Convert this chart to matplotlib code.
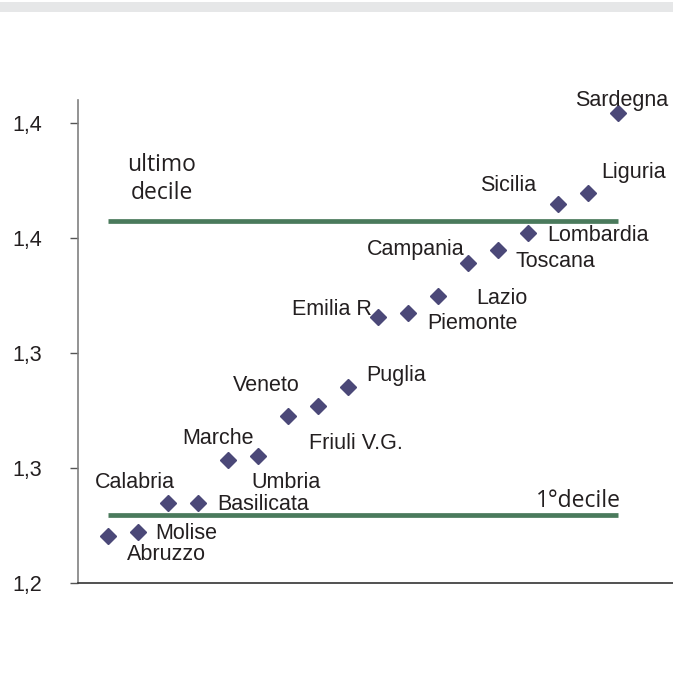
import matplotlib
matplotlib.use("Agg")
import matplotlib.pyplot as plt
from matplotlib.patches import Rectangle
from matplotlib.ticker import FixedLocator, FixedFormatter

# ---- data ----
regions = ["Abruzzo", "Molise", "Calabria", "Basilicata", "Marche", "Umbria",
           "Veneto", "Friuli V.G.", "Puglia", "Emilia R", "Piemonte", "Lazio",
           "Campania", "Toscana", "Lombardia", "Sicilia", "Liguria", "Sardegna"]
values = [1.2204, 1.2222, 1.2348, 1.2348, 1.2535, 1.2552,
          1.2726, 1.2770, 1.2852, 1.3157, 1.3174, 1.3248,
          1.3391, 1.3448, 1.3522, 1.3648, 1.3696, 1.4044]
first_decile = 1.2296
last_decile = 1.3574
ytick_values = [1.20, 1.25, 1.30, 1.35, 1.40]
ytick_labels = ["1,2", "1,3", "1,3", "1,4", "1,4"]

# ---- label placement (pixel offsets, alignment) ----
label_pos = {
    "Abruzzo": (58, -18, "center"),
    "Molise": (17, -2, "left"),
    "Calabria": (7, 20, "right"),
    "Basilicata": (19, -2, "left"),
    "Marche": (-10, 21, "center"),
    "Umbria": (28, -26, "center"),
    "Veneto": (-22, 31, "center"),
    "Friuli V.G.": (38, -38, "center"),
    "Puglia": (18, 12, "left"),
    "Emilia R": (-6, 7, "right"),
    "Piemonte": (19, -11, "left"),
    "Lazio": (38, -3, "left"),
    "Campania": (-4, 14, "right"),
    "Toscana": (17, -12, "left"),
    "Lombardia": (19, -3, "left"),
    "Sicilia": (-22, 18, "right"),
    "Liguria": (13, 20, "left"),
    "Sardegna": (-43, 12, "left"),
}

W, H = 673, 684
fig = plt.figure(figsize=(W / 100, H / 100), dpi=100)
fig.patch.set_facecolor("white")
fig.patches.append(Rectangle((0, 1 - 12 / H), 1, 10 / H, transform=fig.transFigure,
                             facecolor="#e6e7e8", edgecolor="none"))

ax = fig.add_axes([78 / W, (H - 583) / H, 1 - 78 / W, (583 - 100) / H])
x = list(range(len(regions)))
ax.set_xlim(-1, (673 - 108) / 30)
ax.set_ylim(1.20, 1.41)

ax.plot([x[0], x[-1]], [last_decile, last_decile], color="#4a7a5c", lw=3.4,
        solid_capstyle="butt", zorder=2)
ax.plot([x[0], x[-1]], [first_decile, first_decile], color="#4a7a5c", lw=3.4,
        solid_capstyle="butt", zorder=2)

ax.plot(x, values, linestyle="none", marker="D", markersize=8.6,
        color="#4b4878", zorder=3)

for xi, name, v in zip(x, regions, values):
    dx, dy, ha = label_pos[name]
    ax.annotate(name, (xi, v), xytext=(dx, dy), textcoords="offset pixels",
                ha=ha, va="center", fontsize=15.5, family="Liberation Sans",
                color="#231f20", annotation_clip=False)

ax.annotate("ultimo\ndecile", (x[0], last_decile), xytext=(54, 42),
            textcoords="offset pixels", ha="center", va="center",
            fontsize=16.5, family="Open Sans", color="#231f20", linespacing=1.25)
ax.annotate("1°decile", (x[-1], first_decile), xytext=(-40, 14),
            textcoords="offset pixels", ha="center", va="center",
            fontsize=16.5, family="Open Sans", color="#231f20")

for s in ["top", "right"]:
    ax.spines[s].set_visible(False)
ax.spines["left"].set_color("#808080")
ax.spines["left"].set_linewidth(1.2)
ax.spines["bottom"].set_color("#333333")
ax.spines["bottom"].set_linewidth(1.2)

ax.set_xticks([])
ax.yaxis.set_major_locator(FixedLocator(ytick_values))
ax.yaxis.set_major_formatter(FixedFormatter(ytick_labels))
ax.tick_params(axis="y", length=6, width=1, color="#555555", pad=20,
               labelsize=15.5, labelcolor="#231f20")
for lab in ax.get_yticklabels():
    lab.set_family("Liberation Sans")

fig.savefig("out.png", dpi=100)
